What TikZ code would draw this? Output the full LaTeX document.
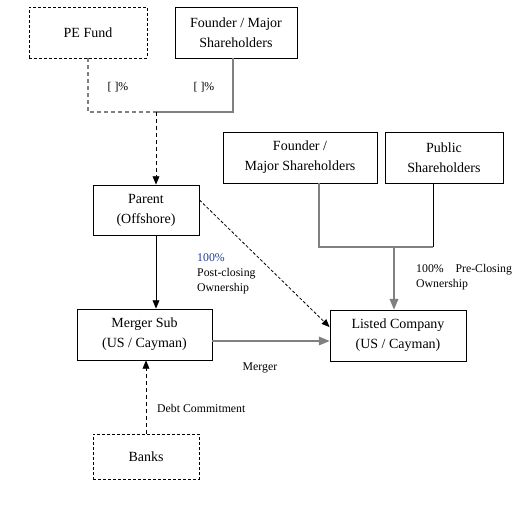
\documentclass[tikz,border=0pt]{standalone}
\usepackage{fontspec}
\setmainfont{Liberation Serif}
\usepackage{pgf,tikz}
\usepackage{color}
\usetikzlibrary{arrows}
\definecolor{lnegray}{RGB}{128,128,128}
\definecolor{pctblue}{RGB}{30,60,150}
\begin{document}
\begin{tikzpicture}[line cap=butt,line join=miter,>=triangle 45,x=1pt,y=-1pt,
    box/.style={draw,line width=0.9pt,minimum width=#1,align=center,inner sep=0pt,font=\fontsize{14}{20}\selectfont},
    dbox/.style={box=#1,dash pattern=on 3pt off 2pt},
    grayline/.style={draw=lnegray,line width=1.5pt},
    dline/.style={dash pattern=on 4pt off 3pt},
    lbl/.style={font=\fontsize{11.8}{15}\selectfont,inner sep=0pt,align=left}]
        \useasboundingbox (0,0) rectangle (517,505);
        % owners at the top
        \node[dbox=118pt,minimum height=51pt] (pe) at (88,32.5) {PE Fund};
        \node[box=122pt,minimum height=51pt] (fnda) at (236,32.5) {Founder / Major\\Shareholders};
        \node[box=106pt,minimum height=50pt] (parent) at (146,210) {Parent\\(Offshore)};
        \node[box=154pt,minimum height=51pt] (fndb) at (300,157.5) {Founder /\\Major Shareholders};
        \node[box=118pt,minimum height=51pt] (public) at (444,157.5) {Public\\Shareholders};
        \node[box=136pt,minimum height=51pt] (listed) at (398,335.5) {Listed Company\\(US / Cayman)};
        \node[box=135pt,minimum height=51pt] (msub) at (144.5,334.5) {Merger Sub\\(US / Cayman)};
        \node[dbox=106pt,minimum height=45pt] (banks) at (146,456.5) {Banks};
        \coordinate (jn) at (156,112);
        \coordinate (jn2) at (394,247);
        \coordinate (mst) at ([yshift=-6.5]msub.east);
        % connectors
        \draw[grayline,dline] (pe.south) |- (jn);
        \draw[grayline] ([xshift=-3]fnda.south) |- (jn);
        \draw[->,line width=0.9pt,dline] (jn) -- (parent.north -| jn);
        \draw[grayline] ([xshift=19]fndb.south) |- (jn2) -- ([xshift=-11]public.south |- jn2);
        \draw[line width=0.9pt] ([xshift=-11]public.south) -- ([xshift=-11]public.south |- jn2);
        \draw[grayline,->] (jn2) -- (listed.north -| jn2);
        \draw[->,line width=0.9pt] (parent.south -| jn) -- (msub.north -| jn);
        \draw[->,line width=0.8pt,dash pattern=on 3pt off 2pt] ([yshift=10]parent.east) -- ([yshift=8.5]listed.west);
        \draw[grayline,->] (mst) -- (listed.west |- mst);
        \draw[->,line width=0.9pt,dline] (banks.north) -- (msub.south -| banks.north);
        % labels
        \node[lbl] (pcta) at (118,87) {[ ]\%};
        \node[lbl] (pctb) at (204,87) {[ ]\%};
        \node[lbl,anchor=north west] (post) at (197,253) {\textcolor{pctblue}{100\%}\\Post-closing\\Ownership};
        \node[lbl,anchor=north west] (pre) at (416,264) {100\%\quad Pre-Closing\\Ownership};
        \node[lbl] (mrg) at (260,368) {Merger};
        \node[lbl,anchor=west] (debt) at (157,408) {Debt Commitment};
\end{tikzpicture}
\end{document}
